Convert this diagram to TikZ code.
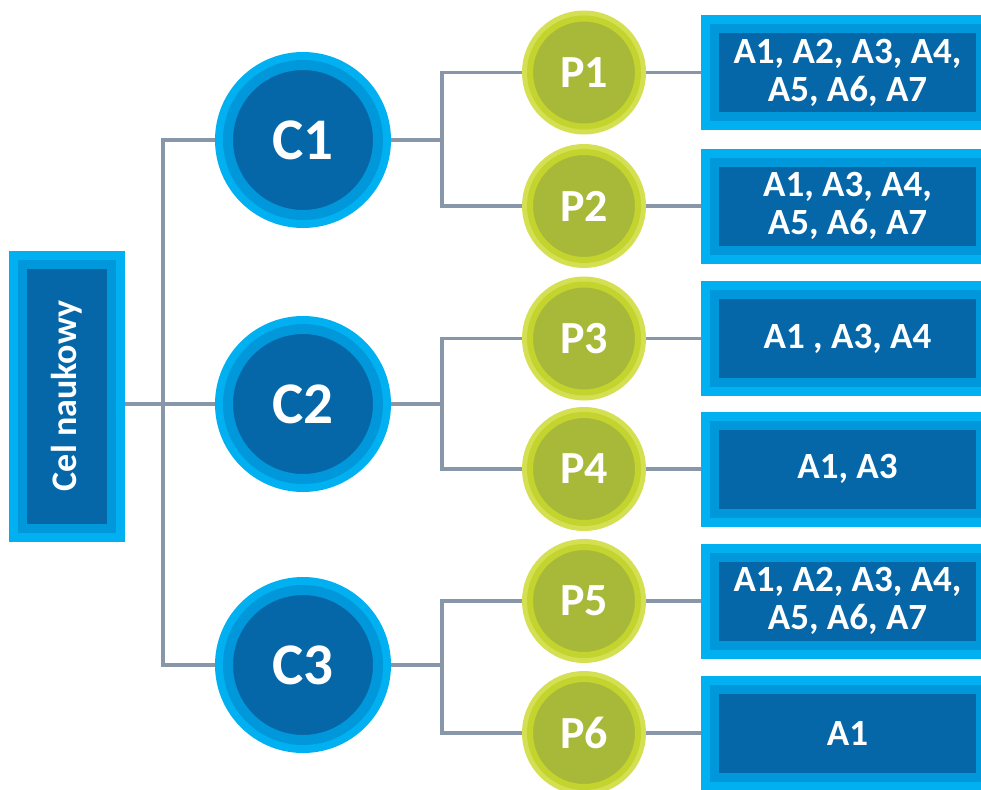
\documentclass[tikz,border=0pt]{standalone}
\usepackage{fontspec}
\setmainfont{Carlito}
\usetikzlibrary{backgrounds}
\definecolor{bout}{HTML}{00B0F0}
\definecolor{bmid}{HTML}{0098DA}
\definecolor{bin}{HTML}{0667A8}
\definecolor{gout}{HTML}{D4DF52}
\definecolor{gmid}{HTML}{C3D42F}
\definecolor{gin}{HTML}{A8B939}
\definecolor{linkgray}{HTML}{8796A8}
\begin{document}
\begin{tikzpicture}[x=1pt,y=-1pt,
  link/.style={draw=linkgray, line width=3.5pt},
  bluecirc/.style={circle, inner sep=0pt, minimum size=150pt, fill=bin, draw=bmid,
    line width=10pt, preaction={draw=bout, line width=26pt}, text=white,
    font=\fontsize{59}{60}\selectfont\bfseries},
  greencirc/.style={circle, inner sep=0pt, minimum size=108pt, fill=gin, draw=gmid,
    line width=6pt, preaction={draw=gout, line width=16pt}, text=white,
    font=\fontsize{46}{48}\selectfont\bfseries},
  framedbox/.style={rectangle, inner sep=0pt, fill=bin, draw=bmid, line width=9pt,
    preaction={draw=bout, line width=27pt}, text=white, align=center},
  abox/.style={framedbox, minimum width=266pt, minimum height=88pt,
    font=\fontsize{37}{38}\selectfont\bfseries},
]
\clip (0,0) rectangle (981,789);
\useasboundingbox (0,0) rectangle (981,789);

% root
\node[framedbox, minimum width=89pt, minimum height=264pt,
  font=\fontsize{36}{38}\selectfont\bfseries] (cel) at (67,396)
  {\rotatebox{90}{Cel naukowy}};

% goals
\node[bluecirc] (c1) at (303,140) {C1};
\node[bluecirc] (c2) at (303,404) {C2};
\node[bluecirc] (c3) at (303,665) {C3};

% tasks
\node[greencirc] (p1) at (584,72.5) {P1};
\node[greencirc] (p2) at (584,206) {P2};
\node[greencirc] (p3) at (584,338.5) {P3};
\node[greencirc] (p4) at (584,469) {P4};
\node[greencirc] (p5) at (584,601) {P5};
\node[greencirc] (p6) at (584,733) {P6};

% activities
\node[abox] (a1) at (847.5,72.5) {A1, A2, A3, A4,\\A5, A6, A7};
\node[abox] (a2) at (847.5,206) {A1, A3, A4,\\A5, A6, A7};
\node[abox] (a3) at (847.5,338.5) {A1 , A3, A4};
\node[abox] (a4) at (847.5,469) {A1, A3};
\node[abox] (a5) at (847.5,601) {A1, A2, A3, A4,\\A5, A6, A7};
\node[abox] (a6) at (847.5,733) {A1};

\coordinate (j1) at (163,0);
\coordinate (j2) at (442,0);

\begin{scope}[on background layer]
  \draw[link] (cel.east |- c2) -- (c2.west);
  \draw[link] (c1.west) -- (c1.west -| j1) -- (c3.west -| j1) -- (c3.west);
  \foreach \c/\pa/\pb in {c1/p1/p2, c2/p3/p4, c3/p5/p6} {
    \draw[link] (\c.east) -- (\c.east -| j2);
    \draw[link] (\pa.west) -- (\pa.west -| j2) -- (\pb.west -| j2) -- (\pb.west);
  }
  \foreach \p/\a in {p1/a1, p2/a2, p3/a3, p4/a4, p5/a5, p6/a6}
    \draw[link] (\p.east) -- (\a.west);
\end{scope}
\end{tikzpicture}
\end{document}
